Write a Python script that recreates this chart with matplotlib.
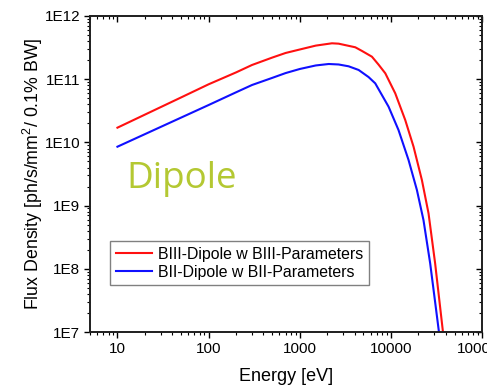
import numpy as np
import matplotlib
matplotlib.use("Agg")
import matplotlib.pyplot as plt
from matplotlib.ticker import FixedLocator, FuncFormatter, LogLocator, NullFormatter

plt.rcParams['font.family'] = ['Liberation Sans', 'DejaVu Sans']
plt.rcParams['mathtext.default'] = 'regular'

# --- data (energy in eV, flux density) ---
energy_b3 = [10, 20, 50, 100, 200, 300, 500, 700, 1000, 1500, 2260, 2670, 4070, 4820,
             6200, 7330, 8690, 11170, 14380, 17740, 21900, 25900, 30600, 37300, 40000]
flux_b3 = [1.71e10, 2.75e10, 5.15e10, 8.3e10, 1.28e11, 1.68e11, 2.2e11, 2.6e11, 2.95e11,
           3.4e11, 3.7e11, 3.65e11, 3.2e11, 2.8e11, 2.27e11, 1.7e11, 1.24e11, 5.98e10,
           2.26e10, 8.55e9, 2.54e9, 7.55e8, 1.22e8, 1.0e7, 3.3e6]

energy_b2 = [10, 20, 50, 100, 200, 300, 500, 700, 1000, 1500, 2080, 2670, 3440, 4430,
             5700, 6740, 9440, 12130, 15630, 19300, 22800, 27000, 33700, 36000]
flux_b2 = [8.55e9, 1.35e10, 2.47e10, 3.9e10, 6.2e10, 8.1e10, 1.05e11, 1.25e11, 1.45e11,
           1.65e11, 1.74e11, 1.71e11, 1.6e11, 1.4e11, 1.08e11, 8.6e10, 3.67e10, 1.57e10,
           5.27e9, 1.77e9, 5.9e8, 1.22e8, 1.0e7, 3.3e6]

labels = ['BIII-Dipole w BIII-Parameters', 'BII-Dipole w BII-Parameters']
x_ticks = [10, 100, 1000, 10000, 100000]
y_ticks = [1e7, 1e8, 1e9, 1e10, 1e11, 1e12]

fig = plt.figure(figsize=(4.87, 3.87), dpi=100)
ax = fig.add_axes([90 / 487, 55 / 387, 392 / 487, 316 / 387])

ax.plot(energy_b3, flux_b3, color='#ff1010', lw=1.5, label=labels[0])
ax.plot(energy_b2, flux_b2, color='#1010ff', lw=1.5, label=labels[1])

ax.set_xscale('log')
ax.set_yscale('log')
ax.set_xlim(5, 1e5)
ax.set_ylim(1e7, 1e12)

ax.xaxis.set_major_locator(FixedLocator(x_ticks))
ax.xaxis.set_major_formatter(FuncFormatter(lambda v, p: f"{int(round(v))}"))
ax.yaxis.set_major_locator(FixedLocator(y_ticks))
ax.yaxis.set_major_formatter(FuncFormatter(lambda v, p: f"1E{int(round(np.log10(v)))}"))
for a in (ax.xaxis, ax.yaxis):
    a.set_minor_locator(LogLocator(base=10, subs=np.arange(2, 10), numticks=20))
    a.set_minor_formatter(NullFormatter())

ax.tick_params(which='major', direction='out', length=4, width=1, labelsize=11, pad=3)
ax.tick_params(which='minor', direction='out', length=2.2, width=0.8)

# mirrored ticks on top and right, pointing inward
axt = ax.twiny()
axt.set_xscale('log')
axt.set_xlim(ax.get_xlim())
axt.xaxis.set_major_locator(FixedLocator(x_ticks))
axt.xaxis.set_minor_locator(LogLocator(base=10, subs=np.arange(2, 10), numticks=20))
axt.tick_params(which='both', direction='in', labeltop=False)
axt.tick_params(which='major', length=4, width=1)
axt.tick_params(which='minor', length=2.2, width=0.8)

axr = ax.twinx()
axr.set_yscale('log')
axr.set_ylim(ax.get_ylim())
axr.yaxis.set_major_locator(FixedLocator(y_ticks))
axr.yaxis.set_minor_locator(LogLocator(base=10, subs=np.arange(2, 10), numticks=20))
axr.tick_params(which='both', direction='in', labelright=False)
axr.tick_params(which='major', length=4, width=1)
axr.tick_params(which='minor', length=2.2, width=0.8)

for a in (ax, axt, axr):
    for s in a.spines.values():
        s.set_linewidth(1.1)
        s.set_color('#222222')

ax.set_xlabel('Energy [eV]', fontsize=13, labelpad=9)
ax.set_ylabel('Flux Density [ph/s/mm$^2$/ 0.1% BW]', fontsize=12.8, labelpad=0)

ax.text(0.093, 0.455, 'Dipole', transform=ax.transAxes, fontsize=26.5,
        family='Open Sans', color='#b4c832')

leg = ax.legend(loc='upper left', bbox_to_anchor=(0.051, 0.288), borderaxespad=0,
                fontsize=11.4, fancybox=False, framealpha=1, edgecolor='#808080',
                handlelength=2.3, handletextpad=0.4, borderpad=0.35, labelspacing=0.2)
leg.get_frame().set_linewidth(1)

fig.savefig('out.png', dpi=100)
